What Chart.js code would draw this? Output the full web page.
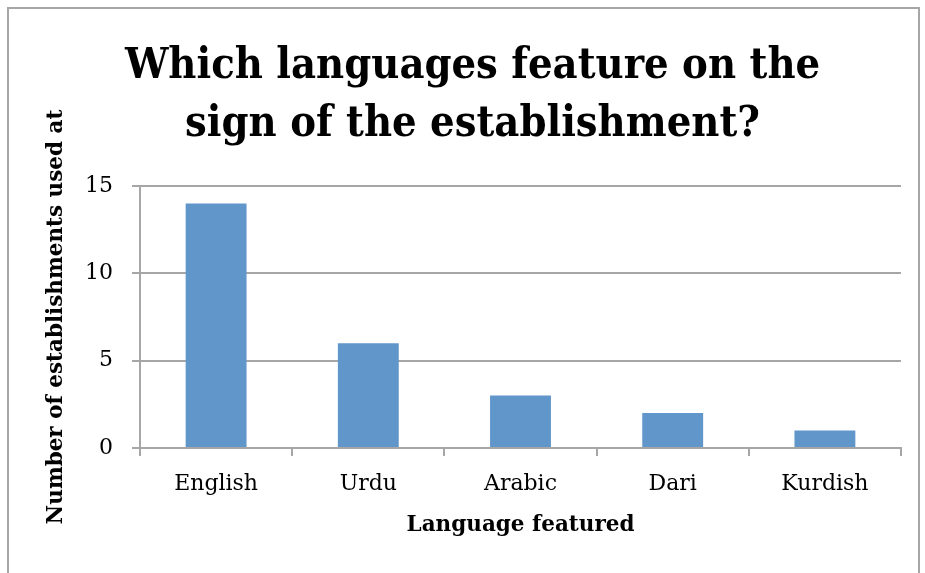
<!DOCTYPE html>
<html>
<head>
<meta charset="utf-8">
<script src="https://cdn.jsdelivr.net/npm/chart.js@4"></script>
<style>
  html, body { margin: 0; padding: 0; background: #fff; }
  #frame {
    position: absolute; left: 7px; top: 7px; width: 913px; height: 580px;
    border: 2px solid #a6a6a6; box-sizing: border-box;
  }
  #wrap { position: absolute; left: 0; top: 0; width: 925px; height: 573px; }
</style>
</head>
<body>
<div id="frame"></div>
<div id="wrap"><canvas id="chart" width="925" height="573"></canvas></div>
<script>
// Languages shown on establishment signs
const languages = ["English", "Urdu", "Arabic", "Dari", "Kurdish"];
const counts = [14, 6, 3, 2, 1];
const yTicks = [0, 5, 10, 15];

const barBlue = "#6096c9";
const gridGrey = "#a6a6a6";
const serif = "'DejaVu Serif'";
const serifNarrow = "'DejaVu Serif Condensed', 'DejaVu Serif'";

new Chart(document.getElementById("chart"), {
  type: "bar",
  data: {
    labels: languages,
    datasets: [{
      data: counts,
      backgroundColor: barBlue,
      borderWidth: 0,
      categoryPercentage: 1,
      barPercentage: 0.4
    }]
  },
  options: {
    responsive: false,
    animation: false,
    layout: { padding: { left: 44, right: 24, top: 28, bottom: 35 } },
    plugins: {
      legend: { display: false },
      tooltip: { enabled: false },
      title: {
        display: true,
        text: ["Which languages feature on the", "sign of the establishment?"],
        color: "#000",
        font: { family: serifNarrow, weight: "bold", size: 43, lineHeight: 58 / 43 },
        padding: { top: 10, bottom: 32 }
      }
    },
    scales: {
      x: {
        afterFit: (axis) => { axis.height = 90; },
        grid: {
          offset: true,
          drawOnChartArea: false,
          color: gridGrey,
          lineWidth: 2,
          tickLength: 8
        },
        border: { color: gridGrey, width: 2 },
        ticks: {
          color: "#000",
          padding: 15,
          font: { family: serif, size: 22 }
        },
        title: {
          display: true,
          text: "Language featured",
          color: "#000",
          font: { family: serif, weight: "bold", size: 21.5 },
          padding: { top: 15, bottom: 0 }
        }
      },
      y: {
        min: 0,
        max: 15,
        afterBuildTicks: (axis) => { axis.ticks = yTicks.map(v => ({ value: v })); },
        afterFit: (axis) => { axis.width = 96; },
        grid: { color: gridGrey, lineWidth: 2, tickLength: 8 },
        border: { color: gridGrey, width: 2 },
        ticks: {
          color: "#000",
          padding: 19,
          font: { family: serif, size: 22 }
        },
        title: {
          display: true,
          text: "Number of establishments used at",
          color: "#000",
          font: { family: serif, weight: "bold", size: 21.5 },
          padding: { top: 0, bottom: 13 }
        }
      }
    }
  }
});
</script>
</body>
</html>
